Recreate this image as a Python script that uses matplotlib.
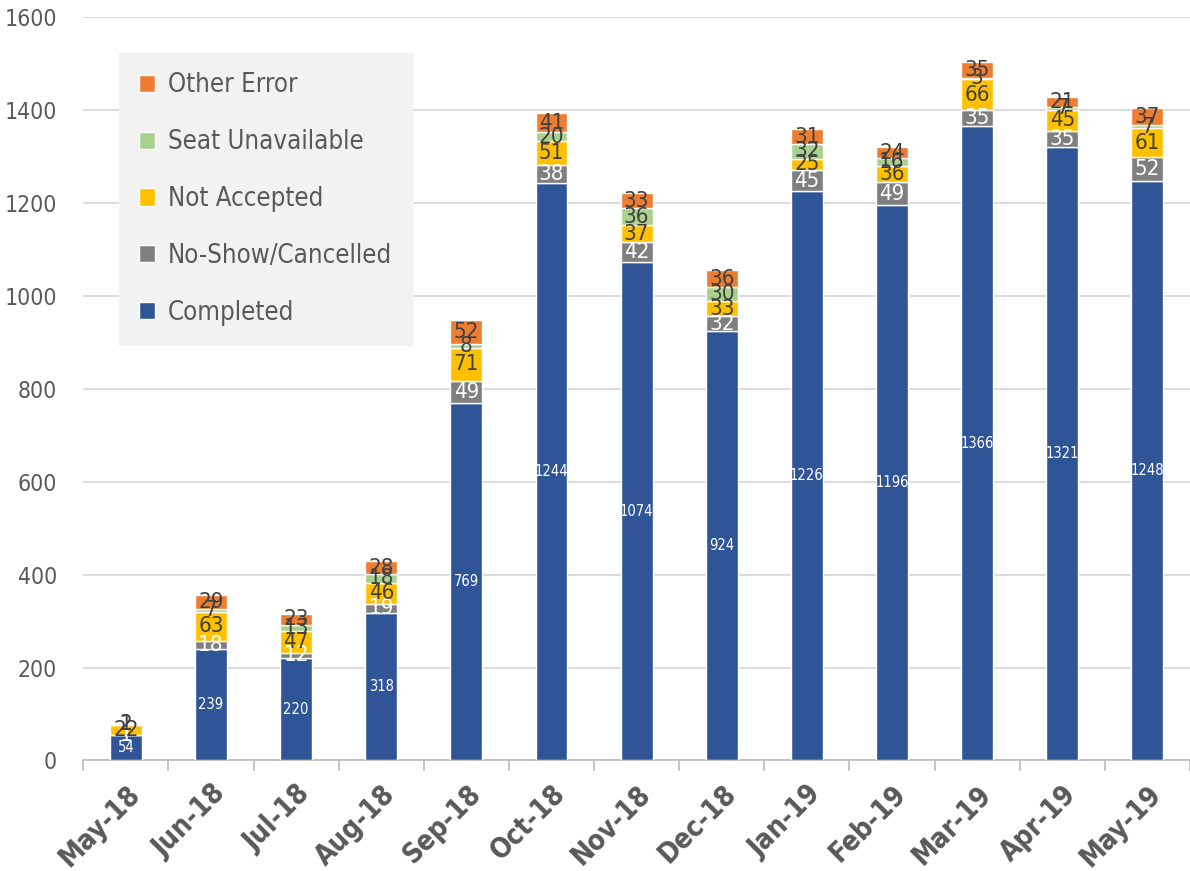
import numpy as np
import matplotlib
matplotlib.use("Agg")
import matplotlib.pyplot as plt

plt.rcParams['font.family'] = ['DejaVu Sans']
plt.rcParams['font.stretch'] = 'condensed'

months = ["May-18", "Jun-18", "Jul-18", "Aug-18", "Sep-18", "Oct-18", "Nov-18",
          "Dec-18", "Jan-19", "Feb-19", "Mar-19", "Apr-19", "May-19"]
completed = [54, 239, 220, 318, 769, 1244, 1074, 924, 1226, 1196, 1366, 1321, 1248]
no_show = [1, 18, 12, 19, 49, 38, 42, 32, 45, 49, 35, 35, 52]
not_accepted = [22, 63, 47, 46, 71, 51, 37, 33, 25, 36, 66, 45, 61]
seat_unavail = [1, 7, 13, 18, 8, 20, 36, 30, 32, 16, 3, 7, 7]
other_error = [2, 29, 23, 28, 52, 41, 33, 36, 31, 24, 35, 21, 37]

# name, values, bar colour, label colour, label size
series = [
    ("Completed", completed, "#2F5597", "white", 10.5),
    ("No-Show/Cancelled", no_show, "#7F7F7F", "white", 16),
    ("Not Accepted", not_accepted, "#FFC000", "#404040", 16),
    ("Seat Unavailable", seat_unavail, "#A9D18E", "#404040", 16),
    ("Other Error", other_error, "#ED7D31", "#404040", 16),
]

fig = plt.figure(figsize=(11.9, 8.71), dpi=100)
ax = fig.add_axes([0.07, 0.127, 0.93, 0.853])

x = np.arange(len(months))
bottom = np.zeros(len(months))
handles = []
for name, vals, color, tcolor, fs in series:
    vals = np.array(vals, dtype=float)
    bars = ax.bar(x, vals, 0.375, bottom=bottom, color=color, edgecolor="white",
                  linewidth=1, label=name, zorder=3)
    handles.append(bars)
    for xi, b, v in zip(x, bottom, vals):
        ax.text(xi, b + v / 2, f"{int(v)}", ha="center", va="center",
                color=tcolor, fontsize=fs, zorder=4)
    bottom += vals

ax.set_xlim(-0.5, len(months) - 0.5)
ax.set_ylim(0, 1600)
ax.set_yticks(range(0, 1601, 200))
ax.yaxis.grid(True, color="#D9D9D9", linewidth=1.3, zorder=0)
ax.tick_params(axis="y", length=0, labelsize=16.5, labelcolor="#595959", pad=19)
for s in ["top", "right", "left"]:
    ax.spines[s].set_visible(False)
ax.spines["bottom"].set_color("#BFBFBF")
ax.spines["bottom"].set_linewidth(1.3)

ax.set_xticks(x)
ax.set_xticklabels(months, rotation=45, ha="right", rotation_mode="anchor",
                   fontsize=20, fontweight="bold", color="#595959")
ax.tick_params(axis="x", which="major", length=0, pad=14)
ax.set_xticks(np.arange(-0.5, len(months), 1), minor=True)
ax.tick_params(axis="x", which="minor", length=8, color="#BFBFBF", width=1.3)

leg = ax.legend(handles=handles[::-1], loc="upper left",
                bbox_to_anchor=(0.0325, 0.952), borderaxespad=0,
                fontsize=18.5, frameon=True,
                fancybox=False, handlelength=0.65, handleheight=0.65,
                handletextpad=0.5, labelspacing=1.2, borderpad=0.75,
                labelcolor="#595959")
leg.get_frame().set_facecolor("#F2F2F2")
leg.get_frame().set_edgecolor("#F2F2F2")
leg.get_frame().set_alpha(1)

fig.savefig("out.png", dpi=100)
